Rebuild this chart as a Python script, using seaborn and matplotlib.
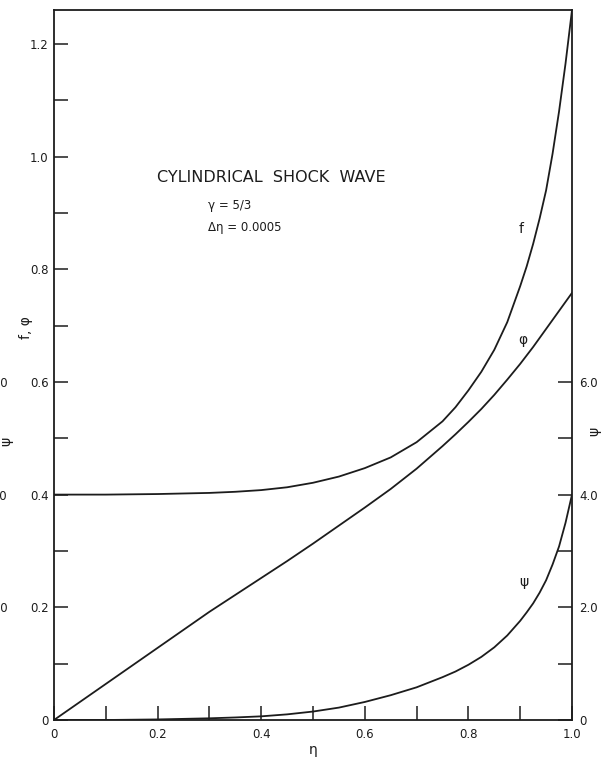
import matplotlib
matplotlib.use('Agg')
import matplotlib.pyplot as plt
import seaborn as sns

# Значения
eta = [0, 0.1, 0.2, 0.3, 0.35, 0.4, 0.45, 0.5, 0.55, 0.6, 0.65, 0.7, 0.75, 0.775, 0.8,
       0.825, 0.85, 0.875, 0.9, 0.9125, 0.925, 0.9375, 0.95, 0.9625, 0.975, 0.9875, 1.0]
f_vals = [0.400, 0.400, 0.401, 0.403, 0.405, 0.408, 0.413, 0.421, 0.432, 0.447, 0.466, 0.493,
          0.530, 0.555, 0.585, 0.618, 0.657, 0.706, 0.77, 0.805, 0.845, 0.89, 0.94, 1.005,
          1.08, 1.165, 1.26]
phi_vals = [0, 0.064, 0.128, 0.192, 0.222, 0.252, 0.282, 0.313, 0.345, 0.377, 0.41, 0.446,
            0.486, 0.507, 0.529, 0.552, 0.577, 0.604, 0.632, 0.647, 0.662, 0.678, 0.694, 0.71,
            0.726, 0.742, 0.758]
psi_vals = [0, 0, 0.01, 0.03, 0.045, 0.065, 0.1, 0.15, 0.22, 0.32, 0.44, 0.58, 0.76, 0.86,
            0.98, 1.12, 1.29, 1.5, 1.76, 1.91, 2.07, 2.26, 2.48, 2.76, 3.08, 3.5, 4.0]

x_ticks = [0, 0.2, 0.4, 0.6, 0.8, 1.0]
x_ticklabels = ['0', '0.2', '0.4', '0.6', '0.8', '1.0']
x_minor = [0.1, 0.3, 0.5, 0.7, 0.9]
y_ticks = [0, 0.2, 0.4, 0.6, 0.8, 1.0, 1.2]
y_ticklabels = ['0', '0.2', '0.4', '0.6', '0.8', '1.0', '1.2']
y_minor = [0.1, 0.3, 0.5, 0.7, 0.9, 1.1]
psi_ticks = [0, 2, 4, 6]
psi_ticklabels = ['0', '2.0', '4.0', '6.0']
psi_minor = [1, 3, 5]

sns.set_style('ticks')
plt.rcParams['font.family'] = ['DejaVu Sans']

ink = '#1c1c1c'
fig = plt.figure(figsize=(6.15, 7.57), dpi=100)
ax = fig.add_axes([54 / 615, 1 - 720 / 757, 518 / 615, 710 / 757])

# Кривые f и phi (левая шкала)
sns.lineplot(x=eta, y=f_vals, ax=ax, color=ink, lw=1.3)
sns.lineplot(x=eta, y=phi_vals, ax=ax, color=ink, lw=1.3)
ax.set_xlim(0, 1)
ax.set_ylim(0, 1.26)

for s in ax.spines.values():
    s.set_visible(True)
    s.set_linewidth(1.3)
    s.set_color(ink)

ax.set_xticks(x_ticks)
ax.set_xticklabels(x_ticklabels)
ax.set_xticks(x_minor, minor=True)
ax.set_yticks(y_ticks)
ax.set_yticklabels(y_ticklabels)
ax.set_yticks(y_minor, minor=True)
ax.tick_params(which='both', direction='in', length=10, width=1.1, color=ink,
               labelsize=8.5, labelcolor=ink)
ax.tick_params(axis='x', pad=6)
ax.tick_params(axis='y', pad=4)
ax.set_xlabel('η', fontsize=10, color=ink, labelpad=1)
ax.set_ylabel('f, φ', fontsize=10, color=ink)
ax.yaxis.set_label_coords(-0.04, 0.553)

# Кривая psi (правая шкала)
ax2 = ax.twinx()
sns.lineplot(x=eta, y=psi_vals, ax=ax2, color=ink, lw=1.3)
ax2.set_ylim(0, 12.6)
ax2.set_yticks(psi_ticks)
ax2.set_yticklabels(psi_ticklabels)
ax2.set_yticks(psi_minor, minor=True)
ax2.tick_params(which='both', direction='in', length=10, width=1.1, color=ink,
                labelsize=8.5, labelcolor=ink, pad=5)
for s in ax2.spines.values():
    s.set_visible(False)
ax2.set_ylabel('ψ', fontsize=10, color=ink)
ax2.yaxis.set_label_coords(1.029, 0.407)

# Обрезанная левая шкала psi (край скана)
ax3 = ax.twinx()
ax3.set_ylim(0, 12.6)
ax3.yaxis.set_ticks_position('left')
ax3.yaxis.set_label_position('left')
ax3.spines['left'].set_position(('outward', 31.5))
for s in ax3.spines.values():
    s.set_visible(False)
ax3.set_yticks(psi_ticks[1:])
ax3.set_yticklabels(psi_ticklabels[1:])
ax3.tick_params(length=0, labelsize=8.5, labelcolor=ink, pad=2)
ax3.set_ylabel('ψ', fontsize=10, color=ink)
ax3.yaxis.set_label_coords(-0.078, 0.392)

# Подписи
ax.text(157 / 615, 1 - 178 / 757, 'CYLINDRICAL  SHOCK  WAVE', transform=fig.transFigure,
        fontsize=11.5, color=ink, va='center', ha='left')
ax.text(208 / 615, 1 - 206 / 757, 'γ = 5/3', transform=fig.transFigure,
        fontsize=8.5, color=ink, va='center', ha='left')
ax.text(208 / 615, 1 - 228 / 757, 'Δη = 0.0005', transform=fig.transFigure,
        fontsize=8.5, color=ink, va='center', ha='left')
ax.text(521 / 615, 1 - 229 / 757, 'f', transform=fig.transFigure,
        fontsize=10, color=ink, va='center', ha='center')
ax.text(523 / 615, 1 - 340 / 757, 'φ', transform=fig.transFigure,
        fontsize=10, color=ink, va='center', ha='center')
ax.text(524 / 615, 1 - 582 / 757, 'ψ', transform=fig.transFigure,
        fontsize=10, color=ink, va='center', ha='center')

fig.savefig('out.png', dpi=100)
